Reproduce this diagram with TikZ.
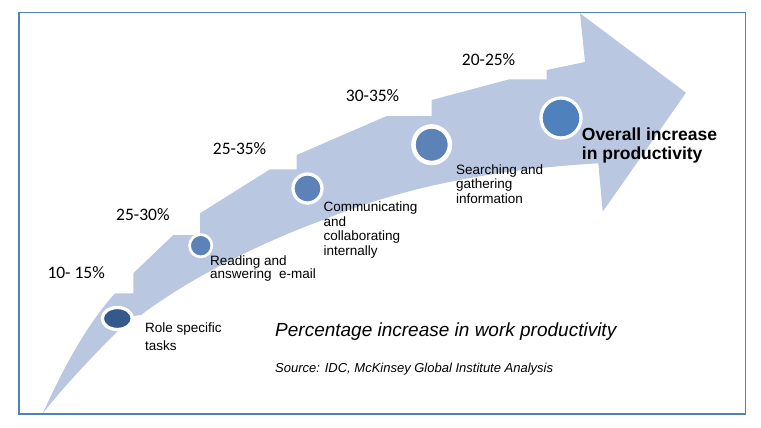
\documentclass[tikz,border=0pt]{standalone}
\usepackage{fontspec}
\setmainfont{Liberation Sans}
\newfontfamily\pctfont{Carlito}
\usepackage{tikz}
\usetikzlibrary{shapes.geometric}
\definecolor{ArrowFill}{RGB}{185,199,225}
\definecolor{FrameBlue}{RGB}{79,129,189}
\definecolor{DotDark}{RGB}{54,89,139}
\definecolor{DotMid}{RGB}{92,130,184}
\definecolor{DotMain}{RGB}{79,129,189}
\tikzset{
  % cerchi sulla freccia
  dot/.style={circle,draw=white,fill=DotMid,inner sep=0pt},
  dot dark/.style={dot,ellipse,fill=DotDark},
  % etichette (ancorate alla base dell'ultima riga)
  pct/.style={font=\pctfont\fontsize{17.5}{20}\selectfont,anchor=base west,inner sep=0pt},
  lbl/.style={font=\fontsize{13.5}{14.5}\selectfont,align=left,anchor=base west,inner sep=0pt},
  note/.style={anchor=base west,inner sep=0pt}
}

\begin{document}
\begin{tikzpicture}[x=1pt,y=-1pt]
    \useasboundingbox (0,0) rectangle (761,428);
    \fill[ArrowFill] (43,413) .. controls (58,380) and (82,330) .. (115,293.3)
      -- (133.3,293.3) -- (133.3,273.3) -- (173.3,235) -- (200,235) -- (200,213.3)
      -- (270,169.3) -- (296.7,169.3) -- (296.7,155) -- (386.7,116) -- (431.7,116)
      -- (431.7,100) -- (509.3,79.3) -- (546.7,79.3) -- (546.7,70) -- (585,62)
      -- (580,13.3) -- (686,92.7) -- (602.7,211.7) -- (598.3,163.3)
      .. controls (520,168) and (420,180) .. (323,220)
      .. controls (260,243) and (190,278) .. (141,315) -- (133,316)
      .. controls (100,348) and (65,385) .. (43,413) -- cycle;
    \node[dot dark,minimum width=30,minimum height=22,line width=3.3] (c1) at (117.3,318.5) {};
    \node[dot,minimum size=22.3,line width=2.7] (c2) at (200.7,245.7) {};
    \node[dot,minimum size=29,line width=3.3] (c3) at (307.5,188.5) {};
    \node[dot,minimum size=36.5,line width=4.5] (c4) at (431.7,144.7) {};
    \node[dot,fill=DotMain,minimum size=40,line width=3.3] (c5) at (561,118) {};
    \node[pct] (p1) at (47.3,278) {10- 15\%};
    \node[pct] (p2) at (116,220) {25-30\%};
    \node[pct] (p3) at (212.7,154) {25-35\%};
    \node[pct] (p4) at (345.7,101.5) {30-35\%};
    \node[pct] (p5) at (461.7,66) {20-25\%};
    \node[lbl] (t1) at (145,350.5) {Role specific\\[3.5pt]tasks};
    \node[lbl] (t2) at (210,278.5) {Reading and\\[-1.5pt]answering\ \ e-mail};
    \node[lbl] (t3) at (323.3,255.2) {Communicating\\and\\collaborating\\internally};
    \node[lbl] (t4) at (456,203) {Searching and\\gathering\\information};
    \node[lbl,font=\bfseries\fontsize{17.5}{18.3}\selectfont] (t5) at (581.7,159) {Overall increase\\in productivity};
    \node[note,font=\itshape\fontsize{19}{22}\selectfont] (title) at (275,336.7) {Percentage increase in work productivity};
    \node[note,font=\itshape\fontsize{13}{15}\selectfont] (src) at (275,372.7) {Source: IDC, McKinsey Global Institute Analysis};
    \draw[FrameBlue,line width=1.3] (19,12.3) rectangle (745.5,414);
  \end{tikzpicture}
\end{document}
